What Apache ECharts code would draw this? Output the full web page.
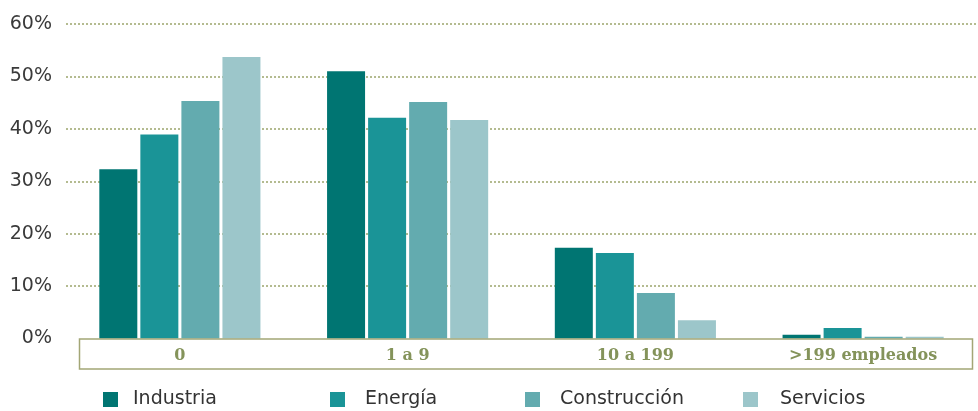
<!DOCTYPE html>
<html>
<head>
<meta charset="utf-8">
<script src="https://cdn.jsdelivr.net/npm/echarts@6/dist/echarts.min.js"></script>
<style>html,body{margin:0;padding:0;background:#fff;}#c{width:978px;height:411px;}</style>
</head>
<body>
<div id="c"></div>
<script>
const categories = ['0', '1 a 9', '10 a 199', '>199 empleados'];
const seriesNames = ['Industria', 'Energía', 'Construcción', 'Servicios'];
const industria = [32.3, 51.0, 17.3, 0.7];
const energia = [38.9, 42.1, 16.3, 2.0];
const construccion = [45.3, 45.1, 8.7, 0.35];
const servicios = [53.7, 41.7, 3.5, 0.35];
const yTicks = [0, 10, 20, 30, 40, 50, 60];

const values = [industria, energia, construccion, servicios];
const colors = ['#007572', '#1a9497', '#63abaf', '#9cc6ca'];
const legendLeft = [103, 330, 525, 743];
const legendPad = [10, 15, 15, 17];

const chart = echarts.init(document.getElementById('c'), null, {renderer: 'canvas'});
const option = {
  animation: false,
  color: colors,
  grid: {left: 66, right: 1, top: 24, bottom: 72.5, containLabel: false},
  xAxis: {
    type: 'category',
    data: categories,
    axisLine: {show: false},
    axisTick: {show: false},
    axisLabel: {
      margin: 9,
      fontFamily: 'DejaVu Serif',
      fontWeight: 'bold',
      fontSize: 16,
      color: '#84935a'
    }
  },
  yAxis: {
    type: 'value',
    min: yTicks[0],
    max: yTicks[yTicks.length - 1],
    interval: 10,
    axisLine: {show: false},
    axisTick: {show: false},
    axisLabel: {
      margin: 14,
      fontFamily: 'DejaVu Sans',
      fontSize: 19,
      color: '#3a3a3a',
      padding: [3, 0, 0, 0],
      formatter: v => v + '%'
    },
    splitLine: {
      show: true,
      showMinLine: false,
      lineStyle: {color: '#9ca56c', width: 1.5, type: [2, 2]}
    }
  },
  legend: seriesNames.map((n, i) => ({
    data: [n],
    left: legendLeft[i],
    top: 390,
    padding: 0,
    icon: 'rect',
    itemWidth: 15,
    itemHeight: 15,
    textStyle: {fontFamily: 'DejaVu Sans', fontSize: 19, color: '#333', padding: [2, 0, 0, legendPad[i]]}
  })),
  graphic: [{
    type: 'rect',
    shape: {x: 79.5, y: 339, width: 893, height: 30},
    style: {fill: 'none', stroke: '#a3a676', lineWidth: 1.5},
    z: 10
  }],
  series: seriesNames.map((n, i) => ({
    name: n,
    type: 'bar',
    data: values[i],
    barWidth: 38,
    barGap: '8%',
    itemStyle: {color: colors[i]}
  }))
};
chart.setOption(option);
</script>
</body>
</html>
